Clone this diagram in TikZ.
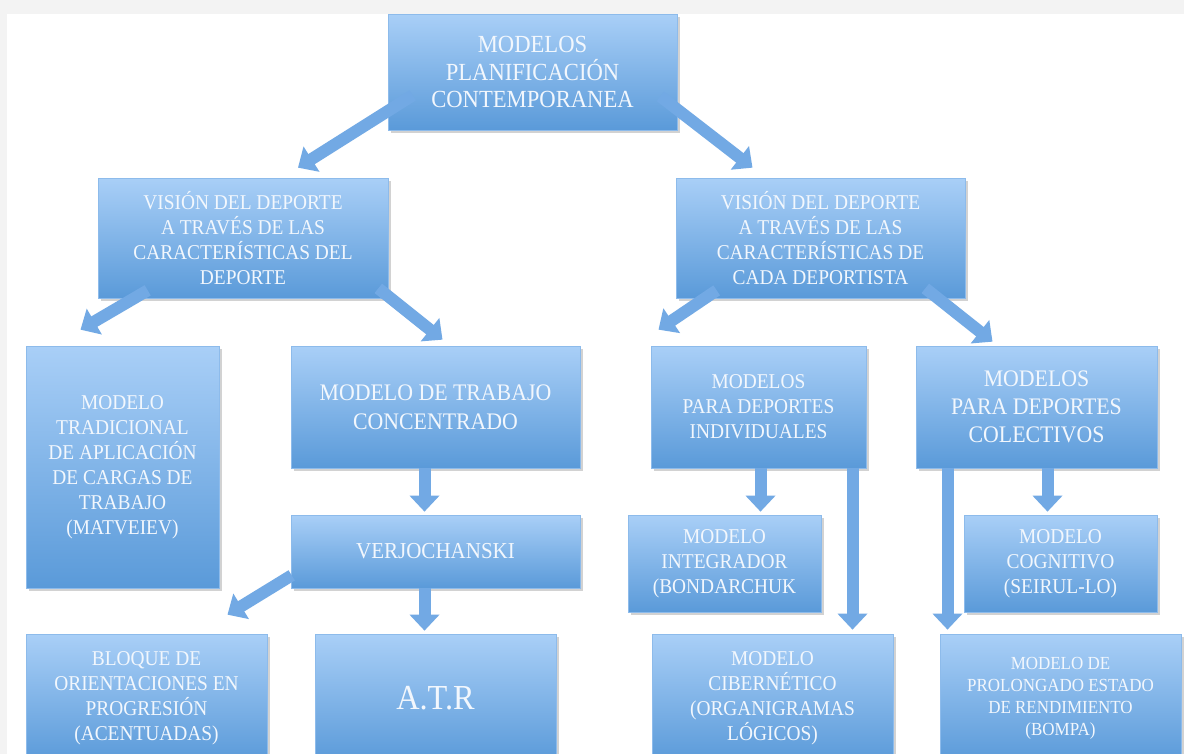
\documentclass[tikz,border=0pt]{standalone}
\usepackage{fontspec}
\setmainfont{Liberation Serif}[FakeStretch=0.92]
\usetikzlibrary{arrows.meta,calc,shadows}
\definecolor{boxtop}{HTML}{A9CFF7}
\definecolor{boxbot}{HTML}{5A9AD9}
\definecolor{boxline}{HTML}{8DBBEB}
\definecolor{arrowfill}{HTML}{72A9E4}
\definecolor{textcol}{HTML}{F2F7FD}
\definecolor{frame}{HTML}{F3F3F3}
\tikzset{
  box/.style={draw=boxline, top color=boxtop, bottom color=boxbot, text=textcol,
    align=center, inner sep=0pt,
    drop shadow={opacity=0.35, shadow xshift=1.5pt, shadow yshift=-1.5pt}},
  flow/.style={line width=0.24cm, draw=arrowfill, -{Triangle[length=0.32cm, width=0.58cm]}},
  small/.style={font=\fontsize{12}{14.2}\selectfont},
}

\begin{document}
\begin{tikzpicture}[x=0.02cm, y=-0.02cm]
  \useasboundingbox (0,0) rectangle (1184,754);
  \clip (0,0) rectangle (1184,754);
  \fill[frame] (0,0) rectangle (1184,754);
  \fill[white] (7,14) rectangle (1184,754);

  % level 0 and 1
  \node[box, minimum width=5.78cm, minimum height=2.32cm, font=\fontsize{14}{15.9}\selectfont]
    at (532.5,72) (top) {MODELOS\\PLANIFICACIÓN\\CONTEMPORANEA};
  \node[box, small, minimum width=5.8cm, minimum height=2.4cm]
    at (243,238) (sport) {VISIÓN DEL DEPORTE\\A TRAVÉS DE LAS\\CARACTERÍSTICAS DEL\\DEPORTE};
  \node[box, small, minimum width=5.78cm, minimum height=2.4cm]
    at (820.5,238) (athlete) {VISIÓN DEL DEPORTE\\A TRAVÉS DE LAS\\CARACTERÍSTICAS DE\\CADA DEPORTISTA};

  % left branch
  \node[box, small, minimum width=3.86cm, minimum height=4.84cm]
    at (122.5,467) (matv) {MODELO\\TRADICIONAL\\DE APLICACIÓN\\DE CARGAS DE\\TRABAJO\\(MATVEIEV)};
  \node[box, minimum width=5.78cm, minimum height=2.44cm, font=\fontsize{13.5}{16.5}\selectfont]
    at (435.5,407) (conc) {MODELO DE TRABAJO\\CONCENTRADO};
  \node[box, minimum width=5.78cm, minimum height=1.46cm, font=\fontsize{13}{15}\selectfont]
    at (435.5,551.5) (verj) {VERJOCHANSKI};
  \node[box, small, minimum width=4.82cm, minimum height=2.56cm]
    at (146.5,698) (bloq) {BLOQUE DE\\ORIENTACIONES EN\\PROGRESIÓN\\(ACENTUADAS)};
  \node[box, minimum width=4.82cm, minimum height=2.56cm, font=\fontsize{20}{24}\selectfont]
    at (435.5,698) (atr) {A.T.R};

  % right branch
  \node[box, small, minimum width=4.3cm, minimum height=2.44cm]
    at (758.5,407) (indiv) {MODELOS\\PARA DEPORTES\\INDIVIDUALES};
  \node[box, minimum width=4.82cm, minimum height=2.44cm, font=\fontsize{13.5}{16}\selectfont]
    at (1036.5,407) (colec) {MODELOS\\PARA DEPORTES\\COLECTIVOS};
  \node[box, small, minimum width=3.86cm, minimum height=1.94cm]
    at (724.5,563.5) (integ) {MODELO\\INTEGRADOR\\(BONDARCHUK};
  \node[box, small, minimum width=3.86cm, minimum height=1.94cm]
    at (1060.5,563.5) (cogn) {MODELO\\COGNITIVO\\(SEIRUL-LO)};
  \node[box, small, minimum width=4.82cm, minimum height=2.56cm]
    at (772.5,698) (ciber) {MODELO\\CIBERNÉTICO\\(ORGANIGRAMAS\\LÓGICOS)};
  \node[box, minimum width=4.82cm, minimum height=2.56cm, font=\fontsize{10.5}{12.5}\selectfont]
    at (1060.5,698) (bompa) {MODELO DE\\PROLONGADO ESTADO\\DE RENDIMIENTO\\(BOMPA)};

  % arrows
  \draw[flow] ($(top.south west)+(25,-35)$) -- ($(sport.north)+(55,-10)$);
  \draw[flow] ($(top.south east)+(-17,-34)$) -- ($(athlete.north)+(-68,-10)$);
  \draw[flow] ($(sport.south west)+(50,-8)$) -- ($(matv.north)+(-42,-16)$);
  \draw[flow] ($(sport.south east)+(-10,-10)$) -- ($(conc.north)+(7,-6)$);
  \draw[flow] ($(athlete.south west)+(41,-8)$) -- ($(indiv.north)+(-100,-16)$);
  \draw[flow] ($(athlete.south east)+(-40,-10)$) -- ($(colec.north)+(-44,-4)$);

  \draw[flow] ($(conc.south)+(-11,0)$) -- ($(verj.north)+(-11,-3)$);
  \draw[flow] ($(verj.south)+(-11,0)$) -- ($(atr.north)+(-11,-3)$);
  \draw[flow] ($(verj.south west)+(1,-13)$) -- ($(bloq.north)+(81,-19)$);
  \draw[flow] ($(indiv.south)+(2,0)$) -- ($(integ.north)+(36,-3)$);
  \draw[flow] ($(indiv.south)+(94,0)$) -- ($(ciber.north)+(80,-4)$);
  \draw[flow] ($(colec.south)+(-89,0)$) -- ($(bompa.north)+(-113,-4)$);
  \draw[flow] ($(colec.south)+(11,0)$) -- ($(cogn.north)+(-13,-3)$);
\end{tikzpicture}
\end{document}
